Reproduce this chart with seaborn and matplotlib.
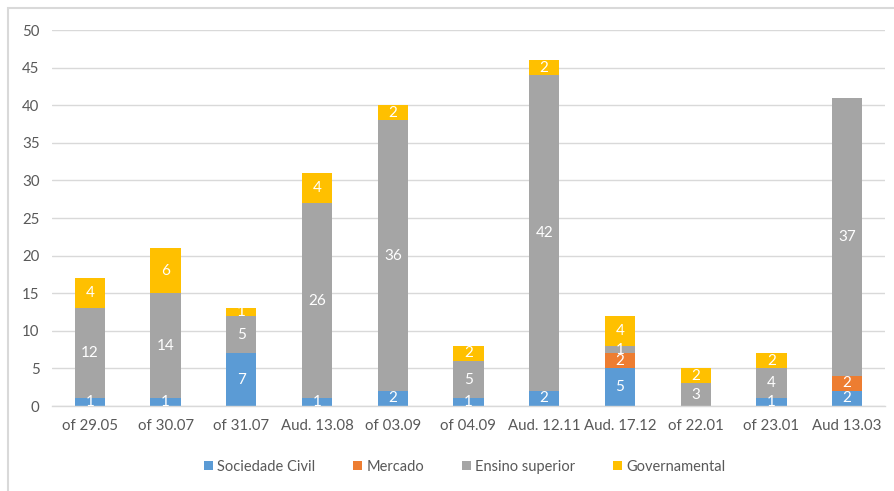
import matplotlib
matplotlib.use("Agg")
import matplotlib.pyplot as plt
import seaborn as sns
import numpy as np
import pandas as pd
from matplotlib.patches import Patch, Rectangle

categories = ["of 29.05", "of 30.07", "of 31.07", "Aud. 13.08", "of 03.09", "of 04.09",
              "Aud. 12.11", "Aud. 17.12", "of 22.01", "of 23.01", "Aud 13.03"]
sociedade_civil = [1, 1, 7, 1, 2, 1, 2, 5, 0, 1, 2]
mercado = [0, 0, 0, 0, 0, 0, 0, 2, 0, 0, 2]
ensino_superior = [12, 14, 5, 26, 36, 5, 42, 1, 3, 4, 37]
governamental = [4, 6, 1, 4, 2, 2, 2, 4, 2, 2, 0]

series_names = ["Sociedade Civil", "Mercado", "Ensino superior", "Governamental"]
series_values = [sociedade_civil, mercado, ensino_superior, governamental]
colors = ["#5B9BD5", "#ED7D31", "#A5A5A5", "#FFC000"]

sns.set_theme(style="white")
plt.rcParams["font.family"] = ["Lato", "DejaVu Sans"]
text_color = "#595959"

fig = plt.figure(figsize=(8.95, 4.91), dpi=100)
ax = fig.add_axes([52 / 895, (491 - 406) / 491, (885 - 52) / 895, (406 - 30) / 491])

bottom = np.zeros(len(categories))
for name, vals, col in zip(series_names, series_values, colors):
    df = pd.DataFrame({"cat": categories, "val": vals})
    n_before = len(ax.patches)
    sns.barplot(data=df, x="cat", y="val", order=categories, color=col, width=0.4,
                errorbar=None, bottom=bottom.copy(), ax=ax, saturation=1,
                linewidth=0)
    bars = ax.patches[n_before:]
    for b, v in zip(bars, vals):
        if v > 0:
            ax.text(b.get_x() + b.get_width() / 2, b.get_y() + b.get_height() / 2,
                    str(v), ha="center", va="center", color="white", fontsize=11)
    bottom += np.array(vals)

ax.set_ylim(0, 50)
ax.set_xlim(-0.5, len(categories) - 0.5)
ax.set_yticks(range(0, 51, 5))
ax.yaxis.grid(True, color="#D9D9D9", linewidth=1)
ax.set_axisbelow(True)
for s in ["top", "right", "left"]:
    ax.spines[s].set_visible(False)
ax.spines["bottom"].set_color("#D9D9D9")
ax.spines["bottom"].set_linewidth(1)
ax.tick_params(axis="both", length=0, colors=text_color, labelsize=10.8)
ax.tick_params(axis="x", pad=9)
ax.tick_params(axis="y", pad=9)
ax.set_xlabel("")
ax.set_ylabel("")

handles = [Patch(facecolor=c, edgecolor="none", label=n) for n, c in zip(series_names, colors)]
leg = fig.legend(handles=handles, loc="center", bbox_to_anchor=(465 / 895, 1 - 467 / 491),
                 ncol=4, frameon=False, fontsize=10.5, handlelength=0.6, handleheight=0.6,
                 handletextpad=0.3, columnspacing=2.6, labelcolor=text_color)

fig.patches.append(Rectangle((8 / 895, -0.1), 1.2, 1 - 8 / 491 + 0.1, transform=fig.transFigure,
                             fill=False, edgecolor="#D9D9D9", linewidth=1.5))

fig.savefig("out.png", dpi=100)
